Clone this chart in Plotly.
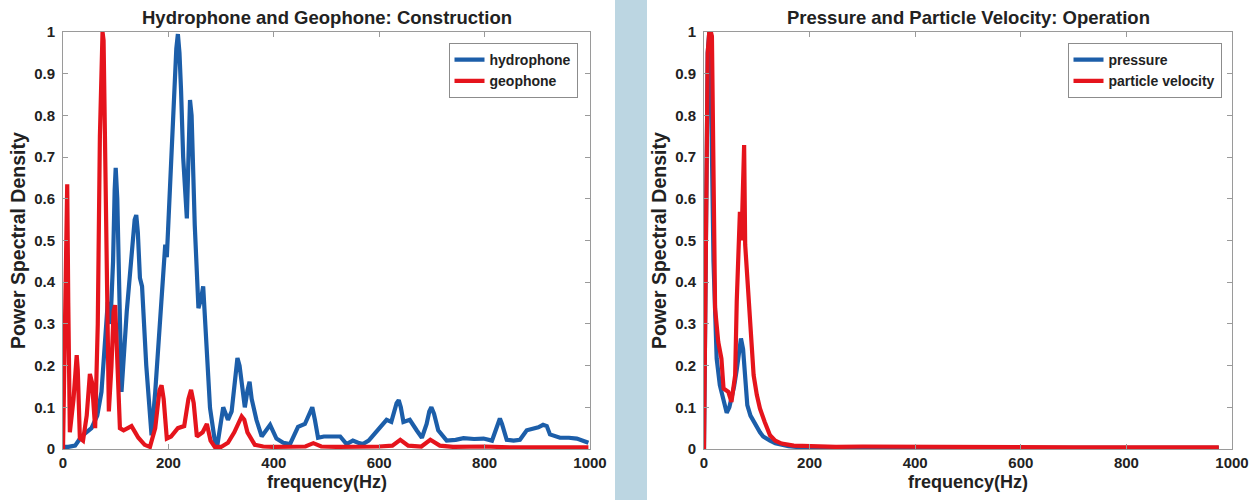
import plotly.graph_objects as go

# ---------------- data ----------------
hydro_f = [0, 10, 23, 35, 54, 65, 73, 80, 85, 90, 95, 98, 100, 103, 106, 111, 121, 130, 136, 139,
           142, 146, 150, 158, 168, 175, 187, 194, 197, 203, 207, 212, 215, 218, 221, 224, 228, 235,
           238, 241, 244, 250, 257, 262, 266, 272, 279, 288, 293, 304, 313, 320, 327, 331, 335, 340,
           345, 350, 354, 358, 367, 377, 385, 393, 405, 418, 431, 446, 459, 469, 473, 478, 484, 495,
           507, 518, 526, 538, 550, 560, 569, 580, 589, 600, 614, 623, 633, 637, 641, 646, 658, 671,
           681, 690, 695, 699, 704, 712, 728, 745, 760, 780, 798, 814, 825, 829, 833, 842, 855, 867,
           880, 893, 902, 911, 918, 924, 943, 960, 975, 997]
hydro_v = [0.005, 0.005, 0.008, 0.03, 0.05, 0.08, 0.137, 0.25, 0.353, 0.30, 0.45, 0.62, 0.674, 0.60,
           0.40, 0.137, 0.33, 0.457, 0.55, 0.561, 0.52, 0.41, 0.39, 0.20, 0.033, 0.137, 0.377, 0.49,
           0.46, 0.64, 0.745, 0.88, 0.96, 0.995, 0.95, 0.86, 0.70, 0.553, 0.70, 0.837, 0.80, 0.537,
           0.338, 0.36, 0.39, 0.25, 0.098, 0.02, 0.01, 0.10, 0.07, 0.09, 0.18, 0.218, 0.20, 0.14,
           0.10, 0.14, 0.161, 0.12, 0.07, 0.03, 0.045, 0.058, 0.025, 0.015, 0.012, 0.053, 0.06, 0.09,
           0.10, 0.07, 0.027, 0.03, 0.03, 0.028, 0.03, 0.012, 0.02, 0.015, 0.012, 0.02, 0.033, 0.05,
           0.07, 0.065, 0.11, 0.117, 0.10, 0.065, 0.07, 0.045, 0.027, 0.06, 0.09, 0.10, 0.085, 0.045,
           0.02, 0.022, 0.026, 0.024, 0.025, 0.02, 0.06, 0.073, 0.06, 0.022, 0.02, 0.022, 0.045,
           0.048, 0.052, 0.058, 0.055, 0.035, 0.027, 0.027, 0.025, 0.015]

geo_f = [0, 3, 6, 8, 10, 13, 20, 24, 26, 28, 32, 38, 45, 51, 55, 61, 66, 70, 73, 75, 77, 80, 83, 87,
         92, 96, 99, 103, 108, 115, 122, 130, 137, 143, 155, 165, 175, 183, 187, 191, 197, 205, 218,
         230, 238, 243, 248, 254, 265, 273, 280, 288, 300, 313, 325, 335, 339, 344, 350, 364, 380,
         400, 430, 460, 475, 490, 520, 560, 600, 625, 640, 655, 680, 697, 715, 740, 800, 850, 900,
         950, 997]
geo_v = [0.0, 0.30, 0.62, 0.635, 0.35, 0.04, 0.12, 0.21, 0.225, 0.19, 0.026, 0.02, 0.08, 0.18, 0.16,
         0.05, 0.30, 0.75, 0.97, 1.0, 0.98, 0.70, 0.42, 0.09, 0.20, 0.33, 0.345, 0.20, 0.05, 0.045,
         0.05, 0.055, 0.04, 0.027, 0.01, 0.005, 0.05, 0.14, 0.153, 0.12, 0.025, 0.03, 0.05, 0.055,
         0.12, 0.142, 0.11, 0.03, 0.04, 0.06, 0.02, 0.005, 0.005, 0.015, 0.04, 0.07, 0.078, 0.07,
         0.04, 0.01, 0.006, 0.005, 0.005, 0.006, 0.014, 0.006, 0.005, 0.005, 0.006, 0.008, 0.022,
         0.008, 0.006, 0.022, 0.008, 0.005, 0.006, 0.004, 0.005, 0.004, 0.004]

press_f = [0, 3, 7, 10, 14, 18, 24, 30, 36, 43, 48, 52, 57, 62, 66, 70, 74, 78, 82, 88, 94, 100,
           106, 112, 118, 125, 135, 147, 160, 175, 200, 250, 300, 400, 500, 600, 700, 800, 900, 975]
press_v = [0.0, 0.40, 0.95, 1.0, 0.80, 0.45, 0.217, 0.153, 0.12, 0.087, 0.10, 0.12, 0.15, 0.19,
           0.23, 0.265, 0.24, 0.177, 0.105, 0.08, 0.065, 0.055, 0.04, 0.03, 0.025, 0.02, 0.014, 0.01,
           0.007, 0.005, 0.004, 0.003, 0.004, 0.003, 0.003, 0.003, 0.003, 0.003, 0.003, 0.003]

vel_f = [0, 3, 7, 10, 13, 15, 17.6, 21, 27, 33, 37, 46, 52, 56, 59, 62, 65, 68, 71, 74, 76, 78, 81,
         84, 89, 94, 100, 106, 115, 125, 135, 147, 170, 200, 250, 300, 400, 500, 600, 700, 800, 900,
         975]
vel_v = [0.0, 0.40, 0.95, 1.0, 1.0, 0.99, 0.617, 0.337, 0.257, 0.217, 0.145, 0.137, 0.113, 0.15,
         0.177, 0.353, 0.45, 0.569, 0.50, 0.65, 0.729, 0.49, 0.43, 0.393, 0.28, 0.177, 0.13, 0.097,
         0.065, 0.033, 0.02, 0.013, 0.008, 0.006, 0.005, 0.006, 0.005, 0.004, 0.004, 0.004, 0.004,
         0.004, 0.004]

x_ticks = [0, 200, 400, 600, 800, 1000]
y_ticks = [0, 0.1, 0.2, 0.3, 0.4, 0.5, 0.6, 0.7, 0.8, 0.9, 1]
y_tick_text = ["0", "0.1", "0.2", "0.3", "0.4", "0.5", "0.6", "0.7", "0.8", "0.9", "1"]

titles = ["Hydrophone and Geophone: Construction", "Pressure and Particle Velocity: Operation"]

# ---------------- styling ----------------
W, H = 1258, 500
BLUE = "#1c5ea9"
RED = "#e5141c"
FONT = "Liberation Sans"
TXT = "#222222"
AXC = "#9a9a9a"
LW = 4.2

L1, R1 = 63, 590
L2, R2 = 704, 1232
TOP, BOT = 32, 449

fig = go.Figure()
fig.add_trace(go.Scatter(x=hydro_f, y=hydro_v, mode="lines", name="hydrophone",
                         line=dict(color=BLUE, width=LW), xaxis="x", yaxis="y", legend="legend"))
fig.add_trace(go.Scatter(x=geo_f, y=geo_v, mode="lines", name="geophone",
                         line=dict(color=RED, width=LW), xaxis="x", yaxis="y", legend="legend"))
fig.add_trace(go.Scatter(x=press_f, y=press_v, mode="lines", name="pressure",
                         line=dict(color=BLUE, width=LW), xaxis="x2", yaxis="y2", legend="legend2"))
fig.add_trace(go.Scatter(x=vel_f, y=vel_v, mode="lines", name="particle velocity",
                         line=dict(color=RED, width=LW), xaxis="x2", yaxis="y2", legend="legend2"))

ph = BOT - TOP


def xax(l, r, anchor):
    return dict(domain=[l / W, r / W], range=[0, 1000], anchor=anchor,
                tickvals=x_ticks, ticktext=[str(t) for t in x_ticks],
                ticks="inside", ticklen=5, tickcolor=AXC, mirror="allticks",
                showline=True, linecolor=AXC, linewidth=1, showgrid=False, zeroline=False,
                automargin=False,
                tickfont=dict(family=FONT, size=15, color=TXT, weight="bold"))


def yax(anchor):
    return dict(domain=[0, 1], range=[0, 1], anchor=anchor,
                tickvals=y_ticks, ticktext=y_tick_text,
                ticks="inside", ticklen=5, tickcolor=AXC, mirror="allticks",
                showline=True, linecolor=AXC, linewidth=1, showgrid=False, zeroline=False,
                ticklabelstandoff=4, automargin=False,
                tickfont=dict(family=FONT, size=15, color=TXT, weight="bold"))


leg_style = dict(bgcolor="white", bordercolor="#8c8c8c", borderwidth=1,
                 font=dict(family=FONT, size=14, color=TXT, weight="bold"),
                 xanchor="right", yanchor="top", tracegroupgap=0, itemwidth=30)

fig.update_layout(
    width=W, height=H, autosize=False,
    margin=dict(l=0, r=0, t=TOP, b=H - BOT, pad=0),
    paper_bgcolor="white", plot_bgcolor="white",
    showlegend=True,
    xaxis=xax(L1, R1, "y"),
    yaxis=yax("x"),
    xaxis2=xax(L2, R2, "y2"),
    yaxis2=yax("x2"),
    legend=dict(x=(578 - 0.5) / W, y=1 - (43 - TOP) / ph, **leg_style),
    legend2=dict(x=(1222 - 0.5) / W, y=1 - (43 - TOP) / ph, **leg_style),
)

# separator band
fig.add_shape(type="rect", xref="paper", yref="paper",
              x0=615 / W, x1=647 / W, y0=-(H - BOT) / ph, y1=1 + TOP / ph,
              fillcolor="#bcd6e2", line=dict(width=0), layer="below")

# titles
for (l, r), t in zip([(L1, R1), (L2, R2)], titles):
    fig.add_annotation(text=t, xref="paper", yref="paper", x=((l + r) / 2) / W,
                       y=1 + (TOP - 18) / ph, showarrow=False, xanchor="center", yanchor="middle",
                       font=dict(family=FONT, size=18.5, color=TXT, weight="bold"))
    fig.add_annotation(text="frequency(Hz)", xref="paper", yref="paper", x=((l + r) / 2) / W,
                       y=-(482 - BOT) / ph, showarrow=False, xanchor="center", yanchor="middle",
                       font=dict(family=FONT, size=18, color=TXT, weight="bold"))
    fig.add_annotation(text="Power Spectral Density", xref="paper", yref="paper",
                       x=(l - 45) / W, y=(BOT - 241) / ph, showarrow=False, textangle=-90,
                       xanchor="center", yanchor="middle",
                       font=dict(family=FONT, size=19.5, color=TXT, weight="bold"))

fig.write_html("out.html", config={"responsive": False},
               post_script="document.body.style.margin='0';document.body.style.overflow='hidden';")
